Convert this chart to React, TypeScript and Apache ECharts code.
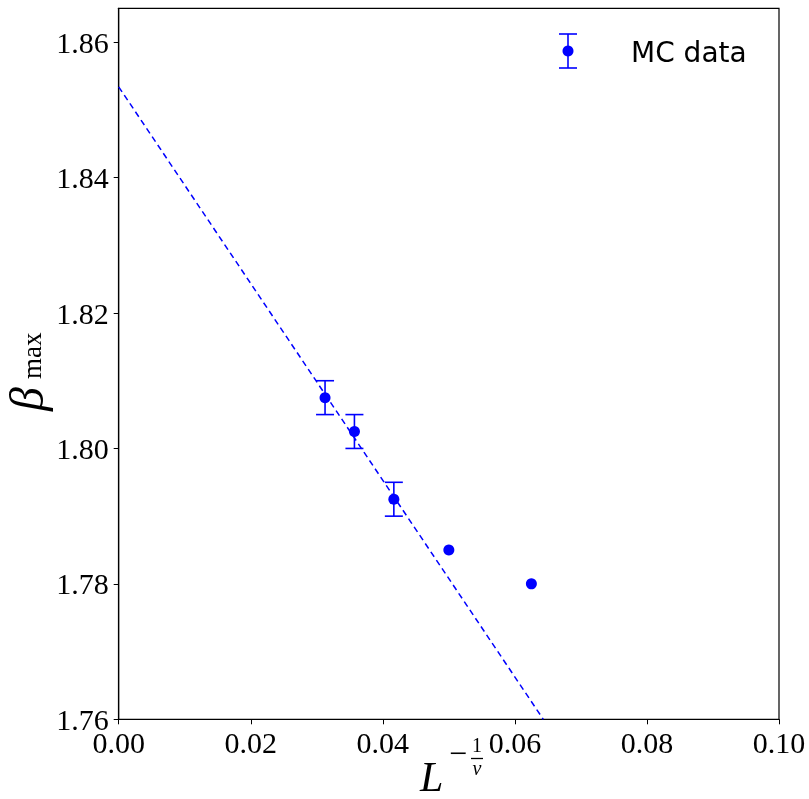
import React, { useEffect, useRef } from "react";
import * as echarts from "echarts";

// Data
const xValues = [0.03125, 0.0357, 0.04167, 0.05, 0.0625];
const betaMax = [1.8075, 1.8025, 1.7925, 1.785, 1.78];
const betaErr = [0.0025, 0.0025, 0.0025, 0, 0];
const fitLine = [
  [0, 1.8534],
  [0.0643, 1.76],
];
const xTicks = [0, 0.02, 0.04, 0.06, 0.08, 0.1];
const yTicks = [1.76, 1.78, 1.8, 1.82, 1.84, 1.86];
const legendLabel = "MC data";

const BLUE = "#0000ff";
const SERIF = "'Liberation Serif', 'DejaVu Serif', serif";
const SANS = "'DejaVu Sans', 'Noto Sans', sans-serif";

export default function App() {
  const ref = useRef<HTMLDivElement>(null);
  useEffect(() => {
    document.body.style.margin = "0";
    const chart = echarts.init(ref.current!, null, { renderer: "svg" });
    const points = xValues.map((x, i) => [x, betaMax[i]]);
    const errData = xValues
      .map((x, i) => [x, betaMax[i] - betaErr[i], betaMax[i] + betaErr[i], betaErr[i]])
      .filter((d) => d[3] > 0);
    chart.setOption({
      animation: false,
      grid: {
        left: 118.7,
        right: 30,
        top: 8.3,
        bottom: 79.7,
        show: true,
        borderColor: "#000",
        borderWidth: 1.2,
      },
      xAxis: {
        type: "value",
        min: 0,
        max: 0.1,
        interval: 0.02,
        splitLine: { show: false },
        axisLine: { show: true, onZero: false, lineStyle: { color: "#000", width: 1.2 } },
        axisTick: { show: true, length: 5, customValues: xTicks, lineStyle: { color: "#000" } },
        axisLabel: {
          customValues: xTicks,
          margin: 8,
          color: "#000",
          fontFamily: SERIF,
          fontSize: 30,
          formatter: (v: number) => v.toFixed(2),
        },
      },
      yAxis: {
        type: "value",
        min: 1.76,
        max: 1.865,
        interval: 0.02,
        splitLine: { show: false },
        axisLine: { show: true, onZero: false, lineStyle: { color: "#000", width: 1.2 } },
        axisTick: { show: true, length: 5, customValues: yTicks, lineStyle: { color: "#000" } },
        axisLabel: {
          customValues: yTicks,
          margin: 10,
          color: "#000",
          fontFamily: SERIF,
          fontSize: 30,
          formatter: (v: number) => v.toFixed(2),
        },
      },
      series: [
        {
          type: "line",
          data: fitLine,
          showSymbol: false,
          symbol: "none",
          lineStyle: { color: BLUE, width: 1.5, type: [6, 4] },
          z: 1,
          silent: true,
        },
        {
          type: "custom",
          data: errData,
          z: 2,
          renderItem: (params: any, api: any) => {
            const x = api.value(0);
            const top = api.coord([x, api.value(2)]);
            const bot = api.coord([x, api.value(1)]);
            const hw = 9;
            const style = { stroke: BLUE, lineWidth: 1.6 };
            return {
              type: "group",
              children: [
                { type: "line", shape: { x1: top[0], y1: top[1], x2: bot[0], y2: bot[1] }, style },
                { type: "line", shape: { x1: top[0] - hw, y1: top[1], x2: top[0] + hw, y2: top[1] }, style },
                { type: "line", shape: { x1: bot[0] - hw, y1: bot[1], x2: bot[0] + hw, y2: bot[1] }, style },
              ],
            };
          },
        },
        {
          type: "scatter",
          name: legendLabel,
          data: points,
          symbol: "circle",
          symbolSize: 11,
          itemStyle: { color: BLUE, opacity: 1 },
          z: 3,
        },
      ],
      graphic: [
        // legend
        { type: "line", shape: { x1: 568, y1: 34, x2: 568, y2: 68 }, style: { stroke: BLUE, lineWidth: 1.6 } },
        { type: "line", shape: { x1: 559, y1: 34, x2: 577, y2: 34 }, style: { stroke: BLUE, lineWidth: 1.6 } },
        { type: "line", shape: { x1: 559, y1: 68, x2: 577, y2: 68 }, style: { stroke: BLUE, lineWidth: 1.6 } },
        { type: "circle", shape: { cx: 568, cy: 51, r: 5.5 }, style: { fill: BLUE } },
        {
          type: "text",
          x: 631,
          y: 52,
          style: { text: legendLabel, fontFamily: SANS, fontSize: 28, fill: "#000", textAlign: "left", textVerticalAlign: "middle" },
        },
        // y-axis label: beta_max
        {
          type: "text",
          x: 26,
          y: 411,
          rotation: Math.PI / 2,
          style: { text: "β", fontFamily: SERIF, fontStyle: "italic", fontSize: 48, lineHeight: 40, fill: "#000", textAlign: "left", textVerticalAlign: "middle" },
        },
        {
          type: "text",
          x: 32,
          y: 379,
          rotation: Math.PI / 2,
          style: { text: "max", fontFamily: SERIF, fontSize: 27, lineHeight: 22, fill: "#000", textAlign: "left", textVerticalAlign: "middle" },
        },
        // x-axis label: L^{-1/nu}
        {
          type: "text",
          x: 420,
          y: 777,
          style: { text: "L", fontFamily: SERIF, fontStyle: "italic", fontSize: 42, lineHeight: 34, fill: "#000", textAlign: "left", textVerticalAlign: "middle" },
        },
        {
          type: "text",
          x: 458,
          y: 753,
          style: { text: "−", fontFamily: SERIF, fontSize: 32, lineHeight: 20, fill: "#000", textAlign: "center", textVerticalAlign: "middle" },
        },
        {
          type: "text",
          x: 477,
          y: 745,
          style: { text: "1", fontFamily: SERIF, fontSize: 20, lineHeight: 16, fill: "#000", textAlign: "center", textVerticalAlign: "middle" },
        },
        { type: "line", shape: { x1: 471, y1: 758.5, x2: 483, y2: 758.5 }, style: { stroke: "#000", lineWidth: 1.3 } },
        {
          type: "text",
          x: 477,
          y: 768,
          style: { text: "ν", fontFamily: SERIF, fontStyle: "italic", fontSize: 20, lineHeight: 14, fill: "#000", textAlign: "center", textVerticalAlign: "middle" },
        },
      ],
    });
    return () => chart.dispose();
  }, []);
  return <div ref={ref} style={{ position: "fixed", left: 0, top: 0, width: 809, height: 799 }} />;
}
